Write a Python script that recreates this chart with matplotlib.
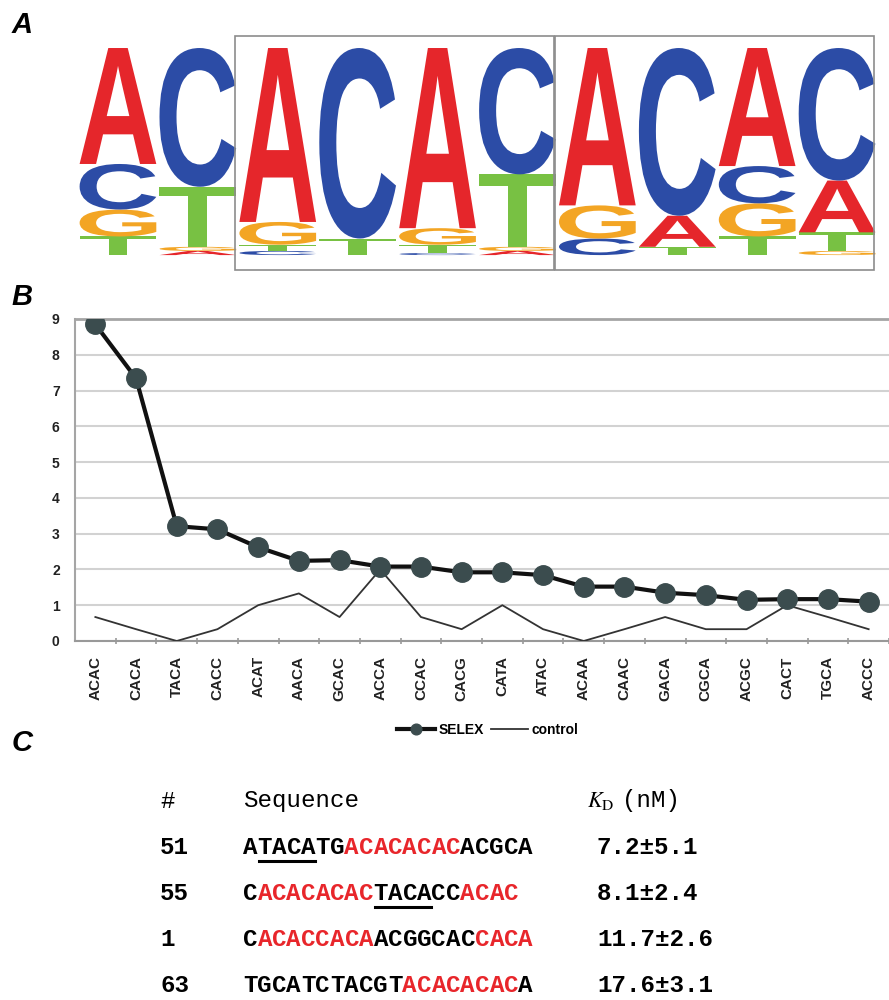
import matplotlib
matplotlib.use('Agg')
import matplotlib.pyplot as plt
import matplotlib.transforms as mtransforms
from matplotlib.textpath import TextPath
from matplotlib.patches import PathPatch, Rectangle
from matplotlib.font_manager import FontProperties

plt.rcParams['font.family'] = ['Liberation Sans', 'DejaVu Sans']

# ---- panel A : sequence logo (letter frequencies per position) ----
logo_A = [0.56, 0.02, 0.84, 0.00, 0.87, 0.02, 0.76, 0.15, 0.57, 0.25]
logo_C = [0.22, 0.67, 0.02, 0.92, 0.01, 0.61, 0.08, 0.81, 0.18, 0.64]
logo_G = [0.13, 0.02, 0.11, 0.00, 0.08, 0.02, 0.16, 0.00, 0.16, 0.02]
logo_T = [0.09, 0.29, 0.03, 0.08, 0.04, 0.35, 0.00, 0.04, 0.09, 0.09]
boxed_groups = [(2, 6), (6, 10)]   # positions inside the two frames

# ---- panel B : enrichment of 4-mers ----
motifs = ['ACAC', 'CACA', 'TACA', 'CACC', 'ACAT', 'AACA', 'GCAC', 'ACCA', 'CCAC', 'CACG',
          'CATA', 'ATAC', 'ACAA', 'CAAC', 'GACA', 'CGCA', 'ACGC', 'CACT', 'TGCA', 'ACCC']
selex = [8.85, 7.34, 3.21, 3.12, 2.62, 2.24, 2.26, 2.08, 2.08, 1.92,
         1.92, 1.84, 1.52, 1.52, 1.35, 1.28, 1.15, 1.17, 1.17, 1.10]
control = [0.67, 0.33, 0.0, 0.33, 1.0, 1.33, 0.67, 2.0, 0.67, 0.33,
           1.0, 0.33, 0.0, 0.33, 0.67, 0.33, 0.33, 1.0, 0.67, 0.33]

# ---- panel C : aptamer sequences ----
clone_ids = ['51', '55', '1', '63']
sequences = ['ATACATGACACACACACGCA', 'CACACACACTACACCACAC',
             'CACACCACAACGGCACCACA', 'TGCATCTACGTACACACACA']
red_spans = [[(7, 15)], [(1, 9), (15, 19)], [(1, 9), (16, 20)], [(11, 19)]]
underline_spans = [(1, 5), (9, 13), None, None]
kd_values = ['7.2±5.1', '8.1±2.4', '11.7±2.6', '17.6±3.1']

W, H = 889, 1000
fig = plt.figure(figsize=(W / 100, H / 100), dpi=100)


def px_axes(x0, y0, x1, y1):
    # axes from pixel box (top-left origin)
    return fig.add_axes([x0 / W, 1 - y1 / H, (x1 - x0) / W, (y1 - y0) / H])


# ================= A =================
colors = {'A': '#e5262b', 'C': '#2c4ca6', 'G': '#f3a524', 'T': '#78c143'}
fp = FontProperties(family='Liberation Sans', weight='bold')

axA = px_axes(78, 36, 877, 270)
axA.set_xlim(0, 10)
axA.set_ylim(-0.072, 1.058)
axA.axis('off')


def draw_letter(ax, ch, x, y, w, h, color):
    tp = TextPath((0, 0), ch, size=1, prop=fp)
    ext = tp.get_extents()
    t = mtransforms.Affine2D().translate(-ext.x0, -ext.y0) \
        .scale(w / ext.width, h / ext.height).translate(x, y)
    ax.add_patch(PathPatch(t.transform_path(tp), fc=color, ec='none'))


for i in range(len(logo_A)):
    col = {'A': logo_A[i], 'C': logo_C[i], 'G': logo_G[i], 'T': logo_T[i]}
    y = 0
    for b in sorted(col, key=lambda k: col[k]):
        h = col[b]
        if h <= 0:
            continue
        draw_letter(axA, b, i + 0.02, y, 0.96, h, colors[b])
        y += h

for g0, g1 in boxed_groups:
    axA.add_patch(Rectangle((g0 - 0.03, -0.072), g1 - g0 - 0.01, 1.13, fill=False,
                            ec='#8c8c8c', lw=1.2, clip_on=False))

# ================= B =================
axB = px_axes(75, 319, 889, 641)
x = list(range(len(motifs)))
axB.plot(x, control, color='#333333', lw=1.3, label='control', zorder=3)
axB.plot(x, selex, color='#111111', lw=3, marker='o', ms=14,
         mfc='#3b4c4e', mec='#3b4c4e', label='SELEX', zorder=4)
axB.set_xlim(-0.5, 19.37)
axB.set_ylim(0, 9)
axB.set_yticks(range(10))
axB.set_yticklabels([str(v) for v in range(10)], fontsize=10, fontweight='bold', color='#222222')
axB.set_xticks(x)
axB.set_xticklabels(motifs, rotation=90, fontsize=11, fontweight='bold', color='#222222')
axB.set_xticks([v - 0.5 for v in range(1, 21)], minor=True)
axB.tick_params(axis='both', which='major', length=0)
axB.tick_params(axis='y', pad=11)
axB.tick_params(axis='x', pad=11)
axB.tick_params(axis='x', which='minor', length=5, direction='inout', color='#999999', width=1.2)
axB.grid(axis='y', color='#d2d2d2', lw=1.5)
axB.set_axisbelow(True)
axB.spines['right'].set_visible(False)
axB.spines['top'].set_color('#a5a5a5')
axB.spines['top'].set_linewidth(2)
axB.spines['left'].set_color('#a5a5a5')
axB.spines['left'].set_linewidth(1.5)
axB.spines['bottom'].set_color('#999999')
axB.spines['bottom'].set_linewidth(1.5)

h, l = axB.get_legend_handles_labels()
fig.legend(h[::-1], l[::-1], loc='center', bbox_to_anchor=(488 / W, 1 - 730 / H), ncol=2,
           frameon=False, handlelength=2.7, columnspacing=0.5, handletextpad=0.25,
           markerscale=0.55, prop={'weight': 'bold', 'size': 10})

# ================= C + panel letters =================
axT = fig.add_axes([0, 0, 1, 1], zorder=-1)
axT.set_xlim(0, W)
axT.set_ylim(H, 0)
axT.axis('off')

for lab, (lx, ly) in zip('ABC', [(22, 25), (22, 297), (22, 743)]):
    axT.text(lx, ly, lab, fontsize=21, fontweight='bold', fontstyle='italic',
             ha='center', va='center')

mono = ['Liberation Mono', 'DejaVu Sans Mono']
fs = 17.4
cw = fs * 0.6 * 100 / 72
red = '#e8262b'

head_y = 801
axT.text(160, head_y, '#', family=mono, fontsize=fs, va='center')
axT.text(243, head_y, 'Sequence', family=mono, fontsize=fs, va='center')
axT.text(587, head_y, r'$K_{\mathrm{D}}$', fontsize=16, va='center', math_fontfamily='stix')
axT.text(622, head_y, '(nM)', family=mono, fontsize=fs, va='center')

row_y = [847, 893, 939, 985]
for k, cid in enumerate(clone_ids):
    y = row_y[k]
    axT.text(160, y, cid, family=mono, fontsize=fs, fontweight='bold', va='center')
    seq = sequences[k]
    for i, ch in enumerate(seq):
        c = 'black'
        for a, b in red_spans[k]:
            if a <= i < b:
                c = red
        axT.text(243 + i * cw, y, ch, family=mono, fontsize=fs, fontweight='bold',
                 va='center', color=c)
    if underline_spans[k] is not None:
        a, b = underline_spans[k]
        axT.plot([243 + a * cw + 1, 243 + b * cw - 1], [y + 14, y + 14], color='black', lw=2.2)
    axT.text(597, y, kd_values[k], family=mono, fontsize=fs, fontweight='bold', va='center')

fig.savefig('out.png', dpi=100)
